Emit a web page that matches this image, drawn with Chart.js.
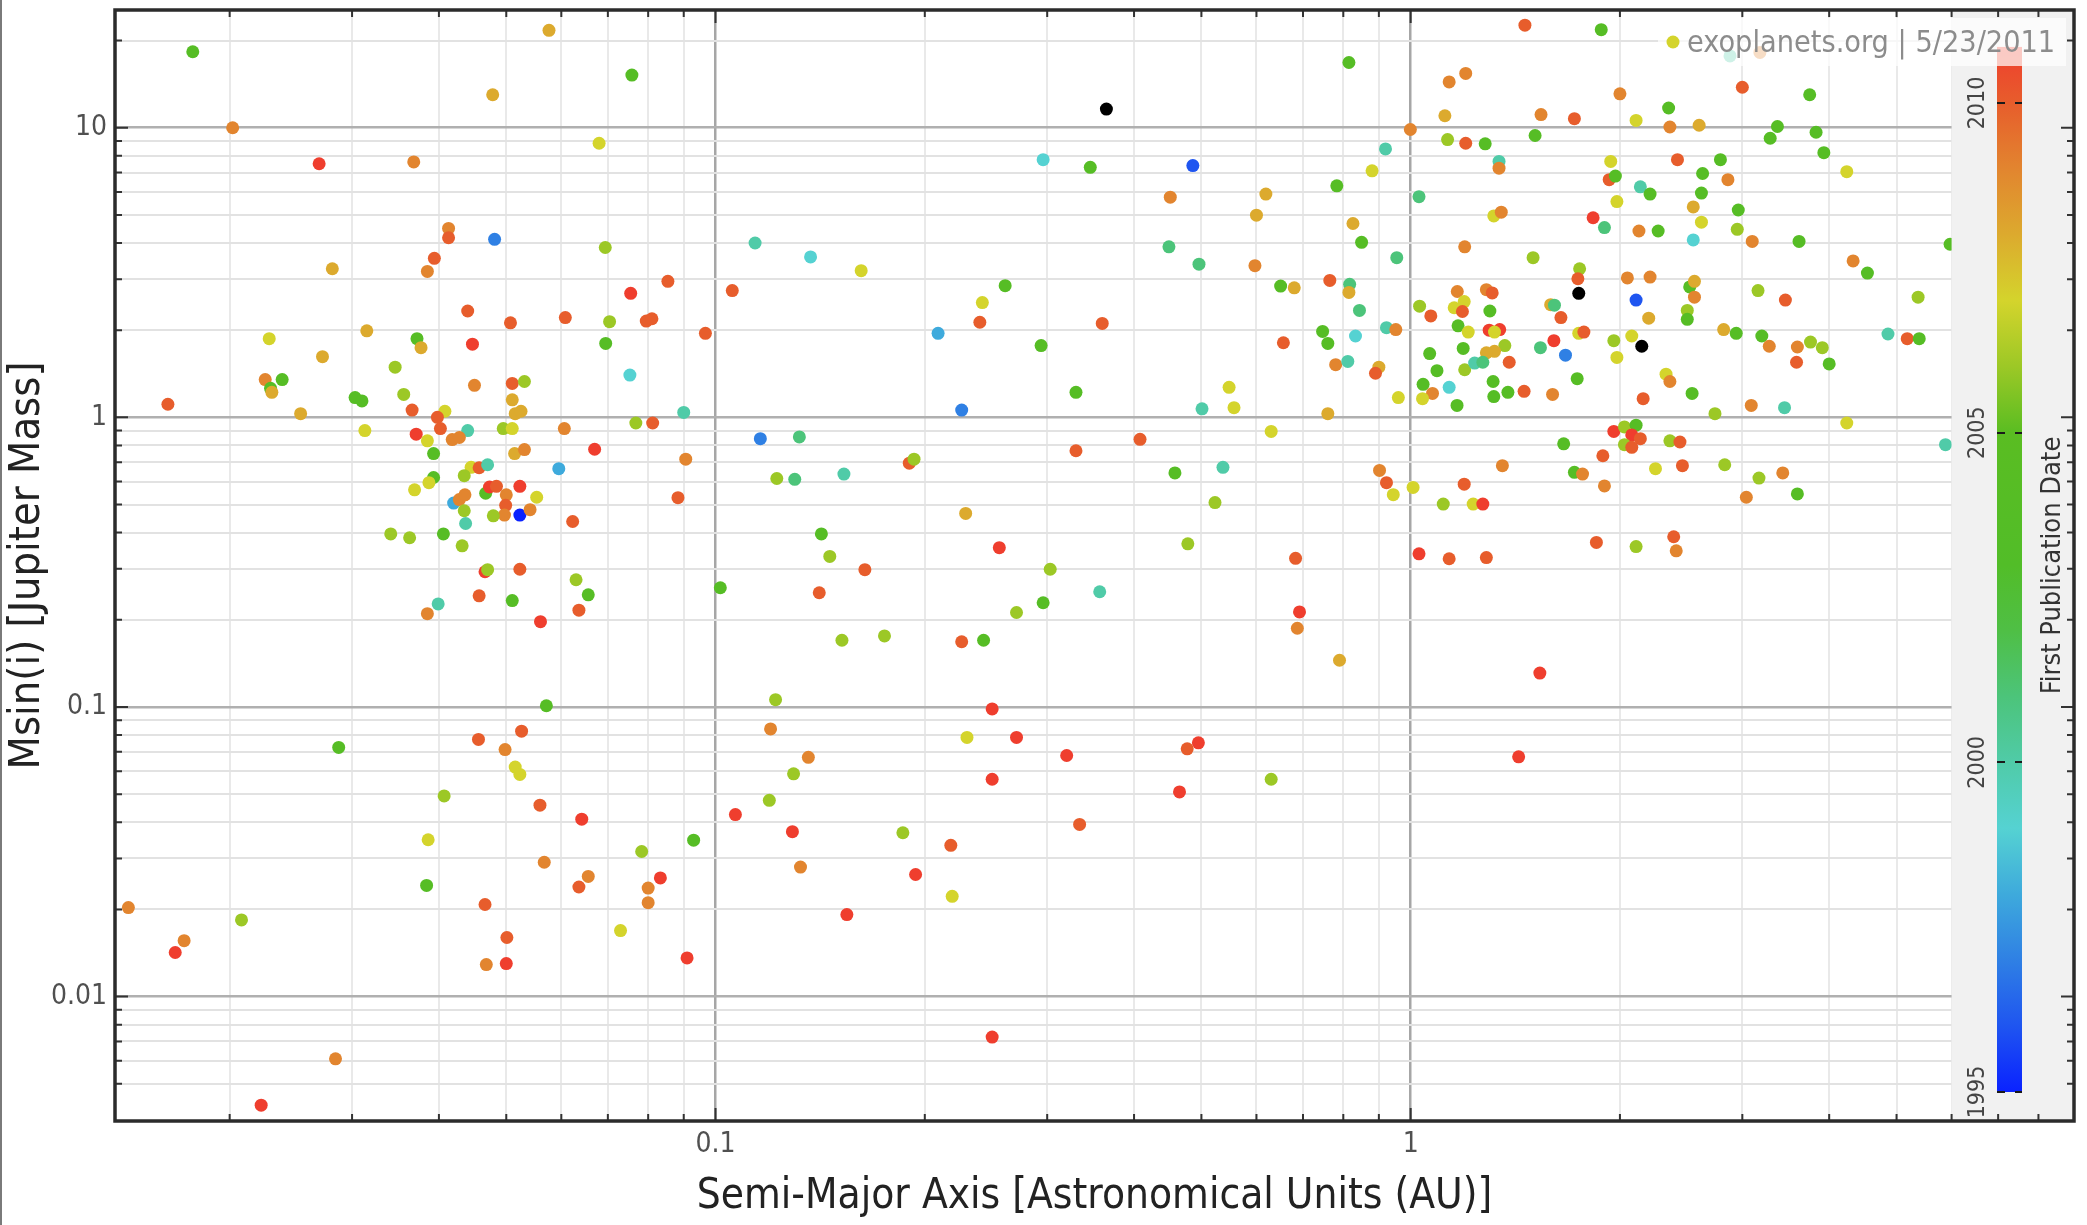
<!DOCTYPE html>
<html>
<head>
<meta charset="utf-8">
<title>Exoplanets: Msin(i) vs Semi-Major Axis</title>
<script src="https://cdn.jsdelivr.net/npm/chart.js@4.4.1/dist/chart.umd.min.js"></script>
<style>
  html, body { margin: 0; padding: 0; background: #ffffff; }
  #wrap { width: 2087px; height: 1225px; position: relative; }
  canvas { display: block; }
</style>
</head>
<body>
<div id="wrap"><canvas id="c" width="2087" height="1225"></canvas></div>
<script>
// ---------------- DATA ----------------
// Semi-major axis [AU]
const semiMajorAxis = [
  0.0177,0.0202,0.0269,0.0368,0.0576,0.0478,0.068,0.0413,0.0413,0.0481,
  0.0694,0.0394,0.0385,0.0281,0.044,0.0507,0.0608,0.0704,0.0695,0.0447,
  0.0228,0.0315,0.0372,0.0377,0.0272,0.0346,0.0225,0.0229,0.0230,0.0238,
  0.0163,0.0253,0.0303,0.031,0.0356,0.045,0.051,0.0531,0.051,0.0515,
  0.0525,0.0366,0.0408,0.0398,0.0402,0.044,0.0313,0.0371,0.0385,0.0418,
  0.0428,0.0495,0.051,0.0606,0.067,0.0393,0.0514,0.0531,0.0445,0.0457,
  0.047,0.0595,0.0393,0.0387,0.0435,0.0369,0.0467,0.0473,0.0484,0.0523,
  0.050,0.0553,0.042,0.0428,0.0436,0.0435,0.0499,0.0497,0.0479,0.0523,
  0.0541,0.0623,0.0437,0.0341,0.0363,0.0406,0.0432,0.0466,0.047,0.0523,
  0.063,0.0656,0.0399,0.0385,0.0457,0.051,0.0636,0.056,0.0571,0.0287,
  0.0456,0.0526,0.0498,0.0515,0.0523,0.0407,0.0559,0.0642,0.0386,0.0567,
  0.0656,0.0636,0.0384,0.0466,0.0501,0.0468,0.050,0.0143,0.0172,0.0167,
  0.0208,0.0284,0.0222,0.0758,0.365,0.296,0.346,0.114,0.137,0.162,
  0.0854,0.0755,0.1057,0.0795,0.081,0.0967,0.209,0.242,0.261,0.24,
  0.294,0.36,0.33,0.226,0.0753,0.09,0.0768,0.0812,0.0906,0.0883,
  0.116,0.132,0.1225,0.130,0.153,0.19,0.193,0.33,0.229,0.142,
  0.146,0.256,0.164,0.1016,0.141,0.152,0.175,0.303,0.296,0.271,
  0.357,0.226,0.243,0.122,0.25,0.12,0.23,0.271,0.32,0.136,
  0.1295,0.25,0.1195,0.1068,0.129,0.186,0.218,0.334,0.0783,0.093,
  0.0833,0.080,0.080,0.1325,0.194,0.219,0.1545,0.073,0.091,0.25,
  0.815,0.486,1.46,1.88,1.136,1.20,1.12,1.54,1.72,0.999,
  1.13,1.20,1.28,1.51,0.92,0.88,1.34,1.34,0.783,1.028,
  0.451,0.619,0.60,0.826,0.85,0.449,0.496,0.597,0.955,1.196,
  1.317,1.35,1.50,1.83,1.90,1.94,1.93,1.97,1.98,2.0,
  0.65,0.68,0.765,0.817,0.815,0.844,1.167,1.285,1.31,1.75,
  1.74,1.745,1.03,1.069,1.155,1.194,1.187,1.30,1.59,1.61,
  1.645,0.656,0.747,0.76,0.833,0.923,0.952,1.17,1.21,1.297,
  1.343,1.32,1.19,1.366,1.32,1.285,1.537,1.607,1.67,1.386,
  1.96,1.98,1.065,1.091,1.196,1.236,1.27,0.78,0.812,0.90,
  0.89,1.042,1.075,1.136,1.04,0.96,1.166,1.314,1.317,1.38,
  1.456,1.60,1.736,0.548,0.557,0.501,0.76,0.63,0.408,0.458,
  0.537,0.523,0.478,0.683,0.902,0.923,0.944,1.008,1.114,1.194,
  1.23,1.27,1.355,1.66,1.72,1.767,1.89,1.96,1.90,1.85,
  1.028,1.136,1.285,1.745,1.775,0.692,0.687,0.79,1.534,0.495,
  0.477,0.465,0.63,1.43,2.88,3.18,3.0,3.75,2.35,2.11,
  2.36,2.6,3.37,3.29,3.83,3.93,2.42,2.79,4.24,2.63,
  2.86,2.14,2.21,2.62,2.55,2.96,2.62,2.13,2.27,2.55,
  2.95,3.1,3.62,5.97,4.33,4.54,2.05,2.21,2.52,2.56,
  2.56,2.11,3.16,3.46,5.37,2.5,2.5,2.2,2.08,2.15,
  2.82,2.94,3.2,3.28,3.6,3.59,3.76,3.91,4.0,4.86,
  5.18,5.39,2.33,2.36,2.16,2.54,2.74,3.09,3.45,4.24,
  5.88,2.03,2.11,2.08,2.14,2.03,2.08,2.36,2.44,2.25,
  2.46,2.83,3.17,3.43,3.04,3.6,2.11,2.39,2.41
];
// Minimum mass Msin(i) [Jupiter masses]
const massJup = [
  18.3,10.0,7.51,7.62,21.7,13.0,8.84,4.49,4.17,4.12,
  3.86,3.54,3.19,3.26,2.33,2.12,2.21,2.14,1.80,1.79,
  1.87,1.99,1.87,1.74,1.62,1.49,1.35,1.26,1.22,1.35,
  1.11,1.03,1.17,1.14,1.20,1.29,1.31,1.33,1.15,1.03,
  1.05,1.06,1.05,1.00,0.915,0.900,0.900,0.875,0.83,0.838,
  0.852,0.915,0.915,0.915,0.776,0.750,0.750,0.774,0.672,0.670,
  0.686,0.665,0.62,0.595,0.629,0.562,0.547,0.575,0.578,0.578,
  0.54,0.53,0.506,0.52,0.54,0.476,0.497,0.46,0.457,0.46,
  0.48,0.437,0.43,0.396,0.384,0.396,0.36,0.293,0.298,0.299,
  0.275,0.244,0.227,0.21,0.242,0.233,0.216,0.197,0.101,0.0725,
  0.0773,0.0825,0.0713,0.062,0.0585,0.0493,0.0458,0.041,0.0348,0.0291,
  0.026,0.0239,0.0242,0.0208,0.016,0.0129,0.013,0.0203,0.0156,0.0142,
  0.0184,0.0061,0.00422,15.2,11.6,7.76,7.3,4.0,3.58,3.21,
  2.95,2.68,2.74,2.15,2.19,1.95,1.95,2.49,2.85,2.13,
  1.77,2.11,1.22,1.06,1.40,1.04,0.956,0.956,0.717,0.528,
  0.844,0.856,0.615,0.611,0.637,0.695,0.717,0.767,0.466,0.396,
  0.331,0.355,0.298,0.258,0.248,0.170,0.176,0.299,0.229,0.212,
  0.25,0.168,0.170,0.106,0.0985,0.084,0.0785,0.0785,0.068,0.067,
  0.0588,0.0563,0.0476,0.0425,0.0371,0.0368,0.0333,0.0393,0.0317,0.0347,
  0.0257,0.0237,0.0211,0.028,0.0264,0.0222,0.0192,0.0169,0.0136,0.00725,
  16.8,7.4,22.6,21.8,14.4,15.4,11.0,11.1,10.75,9.86,
  9.1,8.84,8.8,9.4,8.45,7.1,7.65,7.25,6.3,5.78,
  5.76,5.9,4.99,4.67,4.02,3.88,3.38,3.34,3.56,3.88,
  4.96,5.11,3.56,4.89,4.52,7.65,6.62,6.81,5.56,13.1,
  2.84,2.8,2.97,2.88,2.7,2.34,2.72,2.76,2.69,3.26,
  3.01,2.68,2.42,2.24,2.39,2.51,2.32,2.33,2.45,2.44,
  2.21,1.81,1.98,1.80,1.91,2.04,2.01,2.07,1.97,2.0,
  2.01,1.97,1.73,1.77,1.69,1.67,1.74,1.84,1.64,1.55,
  1.84,1.61,1.66,1.45,1.46,1.54,1.55,1.52,1.56,1.49,
  1.42,1.30,1.21,1.27,1.16,1.17,1.10,1.33,1.18,1.22,
  1.23,1.20,1.36,1.27,1.08,1.07,1.03,0.894,0.84,0.643,
  0.672,0.508,0.366,0.326,0.656,0.595,0.541,0.573,0.502,0.588,
  0.502,0.502,0.681,0.81,0.646,0.637,0.737,0.894,0.58,0.37,
  0.338,0.325,0.328,1.95,1.97,0.213,0.187,0.145,0.131,0.0752,
  0.0717,0.0509,0.0563,0.0673,17.7,18.2,13.8,13.0,11.7,10.6,
  10.06,10.2,10.1,9.2,9.65,8.2,7.76,7.76,7.05,6.95,
  6.62,6.25,5.9,5.95,5.33,5.2,4.72,4.4,4.4,4.1,
  4.46,4.05,4.05,3.96,3.47,3.15,3.03,3.05,2.82,2.95,
  2.6,2.54,2.74,2.54,2.6,2.34,2.18,2.2,1.91,1.76,
  2.01,1.95,1.91,1.76,1.75,1.55,1.82,1.74,1.53,1.94,
  1.87,1.87,1.41,1.33,1.16,1.21,1.03,1.10,1.08,0.956,
  0.805,0.927,0.94,0.87,0.844,0.805,0.788,0.83,0.822,0.665,
  0.681,0.686,0.617,0.643,0.53,0.544,0.358,0.387,0.346
];
// First publication year (null = not dated, drawn black)
const pubYear = [
  2004,2009,2011,2009,2008,2008,2007,2009,2010,1997,
  2006,2010,2009,2008,2010,2010,2010,2006,2004,2011,
  2007,2008,2004,2008,2008,2006,2009,2004,2008,2004,
  2010,2008,2004,2004,2006,2009,2010,2006,2008,2008,
  2008,2010,2007,2010,2010,2000,2007,2011,2007,2009,
  2009,2006,2007,2009,2011,2004,2008,2009,2007,2010,
  2000,1998,2004,2007,2006,2007,2004,2011,2010,2011,
  2009,2007,1998,2009,2009,2006,2010,2009,2006,1995,
  2009,2010,2000,2006,2006,2004,2006,2011,2006,2010,
  2006,2004,2000,2009,2010,2004,2010,2011,2004,2004,
  2010,2010,2009,2007,2007,2006,2010,2011,2007,2009,
  2009,2010,2004,2010,2010,2009,2011,2009,2009,2011,
  2006,2009,2011,2004,null,1999,2004,2000,1999,2007,
  2010,2011,2010,2010,2010,2010,1998,2007,2004,2010,
  2004,2010,2004,1997,1999,2000,2006,2010,2009,2010,
  1997,2001,2006,2001,2000,2010,2006,2010,2008,2004,
  2006,2011,2010,2004,2010,2006,2006,2006,2004,2006,
  2000,2010,2004,2006,2011,2009,2007,2011,2011,2009,
  2006,2011,2006,2011,2011,2006,2010,2010,2006,2004,
  2011,2009,2009,2009,2011,2007,2011,2007,2011,2011,
  2004,1996,2010,2004,2009,2009,2008,2009,2010,2009,
  2006,2010,2004,2004,2000,2007,2000,2009,2004,2001,
  2009,2008,2008,2008,2004,2001,2001,2009,2001,2009,
  2007,2009,2006,2011,2001,2007,2010,2004,2007,2009,
  2004,2008,2010,2001,2008,2001,2009,2009,2010,2006,
  2010,null,2006,2010,2007,2007,2010,2004,2008,2001,
  2010,2010,2004,2004,1999,2000,2009,2004,2007,2011,
  2011,2007,2004,2006,2008,2008,2001,2011,1997,2010,
  2006,2007,2004,2004,2006,2000,2001,2009,2000,2008,
  2010,2004,2009,1999,2007,2007,2004,2004,2004,2004,
  2010,2009,2004,2007,2007,2000,2008,2007,2010,2004,
  2000,2006,2006,2010,2009,2010,2007,2007,2006,2010,
  2007,2011,2009,2004,2004,2009,2010,2011,2009,2010,
  2011,2010,2010,2007,2010,2011,2009,2008,2011,2011,
  2010,2011,2006,2011,2000,2009,2010,2004,2004,2007,
  2009,2008,2004,2004,2004,2004,2010,2004,2007,2004,
  2009,2000,2004,2004,2008,2004,2007,2009,2004,1999,
  2006,2009,2004,2004,2009,2004,2009,2009,2004,2008,
  2009,1996,2006,2010,2006,2006,2004,2008,2007,null,
  2008,2004,2004,2009,2009,2010,2006,2006,2004,2000,
  2010,2004,2007,2009,2010,2004,2006,2009,2000,2007,
  2000,2006,2004,2011,2010,2006,2010,2006,2010,2007,
  2010,2006,2006,2009,2009,2004,2006,2010,2009
];

// Axis tick labels (major decades only)
const xTickValues = [0.1, 1];
const xTickLabels = ['0.1', '1'];
const yTickValues = [0.01, 0.1, 1, 10];
const yTickLabels = ['0.01', '0.1', '1', '10'];
// Colour bar (first publication date)
const colorbarTicks = [1995, 2000, 2005, 2010];
const colorbarRange = [1995, 2010.85];
const yearStops  = [1995, 1996, 1997, 1998, 1999, 2000, 2001, 2002, 2003, 2005, 2006, 2007, 2008, 2009, 2010, 2011];
const stopColors = ['#0a22ff','#1f55f0','#2f80e4','#3eaadc','#55d2d2','#50cba8','#4cc47a','#4fbf45','#52bd28','#5abd22','#9cc826','#d4d42c','#dcaa2e','#e2852f','#e75d2c','#ef3e2e'];

// ---------------- STYLE / LAYOUT ----------------
const FONT = "'DejaVu Sans Condensed', 'DejaVu Sans', sans-serif";
const X_RANGE = [0.01368, 9.0];
const Y_RANGE = [0.00372, 25.5];
const YEAR_AXIS = [1994.56, 2011.41];
const BAND_START_AU = 6;

function hexToRgb(h) { const n = parseInt(h.slice(1), 16); return [(n >> 16) & 255, (n >> 8) & 255, n & 255]; }
function yearColor(yr) {
  if (yr === null || yr === undefined) return '#000000';
  if (yr <= yearStops[0]) return stopColors[0];
  for (let i = 1; i < yearStops.length; i++) {
    if (yr <= yearStops[i]) {
      const t = (yr - yearStops[i - 1]) / (yearStops[i] - yearStops[i - 1]);
      const a = hexToRgb(stopColors[i - 1]), b = hexToRgb(stopColors[i]);
      const c = a.map((v, k) => Math.round(v + (b[k] - v) * t));
      return `rgb(${c[0]},${c[1]},${c[2]})`;
    }
  }
  return stopColors[stopColors.length - 1];
}
function logInfo(v) {
  if (!(v > 0)) return { isInt: false, major: false };
  const e = Math.floor(Math.log10(v) + 1e-9);
  const m = v / Math.pow(10, e);
  const r = Math.round(m);
  const isInt = Math.abs(m - r) < 1e-6 && r >= 1 && r <= 10;
  return { isInt, major: isInt && (r === 1 || r === 10) };
}
function labelFor(v, vals, labels) {
  for (let i = 0; i < vals.length; i++) if (Math.abs(v / vals[i] - 1) < 1e-6) return labels[i];
  return '';
}
function noOverflow(s) { s.paddingTop = 0; s.paddingBottom = 0; s.paddingLeft = 0; s.paddingRight = 0; }

const points = semiMajorAxis.map((a, i) => ({ x: a, y: massJup[i] }));
const colors = pubYear.map(yearColor);

const decor = {
  id: 'decor',
  afterDatasetsDraw(chart) {
    const { ctx, chartArea: ca, scales } = chart;
    const xs = scales.x, ys = scales.y, yr = scales.yr;
    ctx.save();
    // grey colour-bar band
    const bandL = xs.getPixelForValue(BAND_START_AU);
    ctx.fillStyle = '#f1f1f1';
    ctx.fillRect(bandL, ca.top, ca.right - bandL, ca.bottom - ca.top);

    // colour bar
    const yPix = v => yr.getPixelForValue(v);
    const cbX = ca.right - 77, cbW = 25;
    const cbTop = yPix(colorbarRange[1]), cbBot = yPix(colorbarRange[0]);
    const grad = ctx.createLinearGradient(0, cbBot, 0, cbTop);
    yearStops.forEach((y, i) => {
      const t = (y - colorbarRange[0]) / (colorbarRange[1] - colorbarRange[0]);
      grad.addColorStop(Math.max(0, Math.min(1, t)), stopColors[i]);
    });
    ctx.fillStyle = grad;
    ctx.fillRect(cbX, cbTop, cbW, cbBot - cbTop);
    ctx.strokeStyle = '#1a1a1a'; ctx.lineWidth = 2; ctx.setLineDash([8, 10]);
    colorbarTicks.forEach(y => {
      const p = Math.round(yPix(y));
      ctx.beginPath(); ctx.moveTo(cbX, p); ctx.lineTo(cbX + cbW, p); ctx.stroke();
    });
    ctx.setLineDash([]);
    ctx.fillStyle = '#444'; ctx.font = `23px ${FONT}`; ctx.textAlign = 'center'; ctx.textBaseline = 'middle';
    colorbarTicks.forEach(y => {
      ctx.save(); ctx.translate(ca.right - 96, yPix(y)); ctx.rotate(-Math.PI / 2);
      ctx.fillText(String(y), 0, 0); ctx.restore();
    });
    ctx.fillStyle = '#333'; ctx.font = `27px ${FONT}`;
    ctx.save(); ctx.translate(ca.right - 21, (ca.top + ca.bottom) / 2); ctx.rotate(-Math.PI / 2);
    ctx.fillText('First Publication Date', 0, 0); ctx.restore();

    // watermark box
    ctx.fillStyle = 'rgba(255,255,255,0.72)';
    ctx.fillRect(1658, 18, 408, 48);
    ctx.fillStyle = yearColor(2007);
    ctx.beginPath(); ctx.arc(1673, 42, 6.5, 0, Math.PI * 2); ctx.fill();
    const wm = 'exoplanets.org | 5/23/2011';
    ctx.font = `30px ${FONT}`;
    const w30 = ctx.measureText(wm).width;
    const fs = 30 * 368 / w30;
    ctx.font = `${fs.toFixed(1)}px ${FONT}`;
    ctx.fillStyle = '#8c8c8c'; ctx.textAlign = 'left'; ctx.textBaseline = 'middle';
    ctx.fillText(wm, 1687, 44);

    // inward ticks on all four sides
    ctx.strokeStyle = '#333'; ctx.lineWidth = 2;
    xs.ticks.forEach(t => {
      const info = logInfo(t.value);
      if (!info.isInt || t.value <= xs.min || t.value >= xs.max) return;
      const p = xs.getPixelForValue(t.value), L = info.major ? 13 : 7;
      ctx.beginPath();
      ctx.moveTo(p, ca.bottom); ctx.lineTo(p, ca.bottom - L);
      ctx.moveTo(p, ca.top); ctx.lineTo(p, ca.top + L);
      ctx.stroke();
    });
    ys.ticks.forEach(t => {
      const info = logInfo(t.value);
      if (!info.isInt || t.value <= ys.min || t.value >= ys.max) return;
      const p = ys.getPixelForValue(t.value), L = info.major ? 13 : 7;
      ctx.beginPath();
      ctx.moveTo(ca.left, p); ctx.lineTo(ca.left + L, p);
      ctx.moveTo(ca.right, p); ctx.lineTo(ca.right - L, p);
      ctx.stroke();
    });
    // plot frame
    ctx.strokeStyle = '#2b2b2b'; ctx.lineWidth = 3.5;
    ctx.strokeRect(ca.left, ca.top, ca.right - ca.left, ca.bottom - ca.top);
    // page edge line
    ctx.fillStyle = '#7a7a7a';
    ctx.fillRect(0, 0, 2, chart.height);
    ctx.restore();
  }
};

const gridColor = (major, minor) => c => {
  if (!c.tick) return 'rgba(0,0,0,0)';
  const i = logInfo(c.tick.value);
  return !i.isInt ? 'rgba(0,0,0,0)' : (i.major ? major : minor);
};
const gridWidth = c => (c.tick && logInfo(c.tick.value).major) ? 2.5 : 2;

new Chart(document.getElementById('c').getContext('2d'), {
  type: 'scatter',
  data: {
    datasets: [{
      data: points,
      pointRadius: 6.5,
      pointHoverRadius: 6.5,
      pointBorderWidth: 0,
      pointBackgroundColor: colors,
      borderColor: 'rgba(0,0,0,0)'
    }]
  },
  options: {
    responsive: false,
    animation: false,
    events: [],
    layout: { padding: { left: 0, right: 13, top: 10, bottom: 0 } },
    plugins: { legend: { display: false }, tooltip: { enabled: false } },
    scales: {
      x: {
        type: 'logarithmic', position: 'bottom', min: X_RANGE[0], max: X_RANGE[1],
        afterFit: s => { s.height = 104; noOverflow(s); },
        border: { display: false },
        grid: { color: gridColor('#a6a6a6', '#e9e9e9'), lineWidth: gridWidth, drawTicks: false },
        ticks: {
          autoSkip: false, maxRotation: 0, minRotation: 0, padding: 7, color: '#505050',
          font: { family: FONT, size: 28 },
          callback: v => labelFor(v, xTickValues, xTickLabels)
        },
        title: {
          display: true, text: 'Semi-Major Axis [Astronomical Units (AU)]', color: '#222',
          font: { family: FONT, size: 42 }, padding: { top: 0, bottom: 3 }
        }
      },
      y: {
        type: 'logarithmic', position: 'left', min: Y_RANGE[0], max: Y_RANGE[1],
        afterFit: s => { s.width = 115; noOverflow(s); },
        border: { display: false },
        grid: { color: gridColor('#b0b0b0', '#e2e2e2'), lineWidth: gridWidth, drawTicks: false },
        ticks: {
          autoSkip: false, padding: 8, color: '#505050',
          font: { family: FONT, size: 28 },
          callback: v => labelFor(v, yTickValues, yTickLabels)
        },
        title: {
          display: true, text: 'Msin(i) [Jupiter Mass]', color: '#222',
          font: { family: FONT, size: 43 }, padding: { top: 2, bottom: 0 }
        }
      },
      yr: { type: 'linear', display: false, position: 'right', min: YEAR_AXIS[0], max: YEAR_AXIS[1],
            afterFit: s => { noOverflow(s); } }
    }
  },
  plugins: [decor]
});
</script>
</body>
</html>
